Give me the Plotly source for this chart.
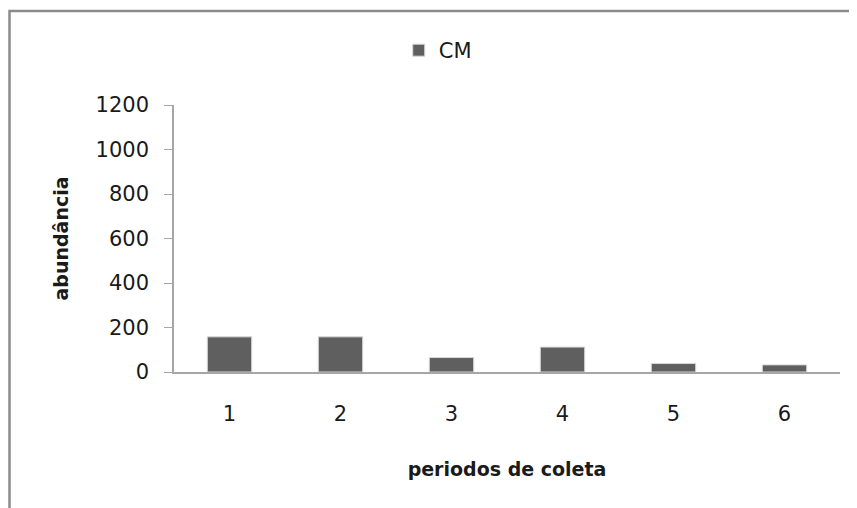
import plotly.graph_objects as go

categories = ["1", "2", "3", "4", "5", "6"]
cm_values = [158, 158, 65, 112, 38, 32]
y_ticks = [0, 200, 400, 600, 800, 1000, 1200]

FONT = "DejaVu Sans, sans-serif"

fig = go.Figure()
fig.add_trace(go.Bar(
    x=categories, y=cm_values, name="CM",
    marker=dict(color="#5f5f5f", line=dict(color="#d8d8d8", width=1)),
    width=0.4,
))

# plot area (figure px): x 166..832, y 97..364
fig.update_layout(
    width=857, height=508,
    margin=dict(l=166, r=25, t=97, b=144),
    paper_bgcolor="white", plot_bgcolor="white",
    font=dict(family=FONT, size=21, color="#1a1a1a"),
    showlegend=True,
    legend=dict(orientation="h", x=0.396, xanchor="center", y=1.204, yanchor="middle",
                font=dict(size=21), itemwidth=30),
    xaxis=dict(
        type="category", showline=True, linecolor="#a6a6a6", linewidth=2,
        ticks="", ticklabelstandoff=22, showgrid=False, zeroline=False,
        tickfont=dict(size=21),
        title=dict(text="<b>periodos de coleta</b>", standoff=37, font=dict(size=19)),
    ),
    yaxis=dict(
        range=[0, 1200], tickvals=y_ticks, showline=True, linecolor="#a6a6a6", linewidth=1.5,
        ticks="outside", ticklen=8, tickcolor="#a6a6a6", ticklabelstandoff=11,
        showgrid=False, zeroline=False, tickfont=dict(size=21),
        title=dict(text="<b>abundância</b>", standoff=22, font=dict(size=19)),
    ),
    shapes=[dict(type="rect", xref="paper", yref="paper",
                 x0=(1.5 - 166) / 666, x1=1.2, y0=-0.8, y1=(364 - 3) / 267,
                 line=dict(color="#8c8c8c", width=2.5), layer="below")],
)

fig.write_html("out.html")
